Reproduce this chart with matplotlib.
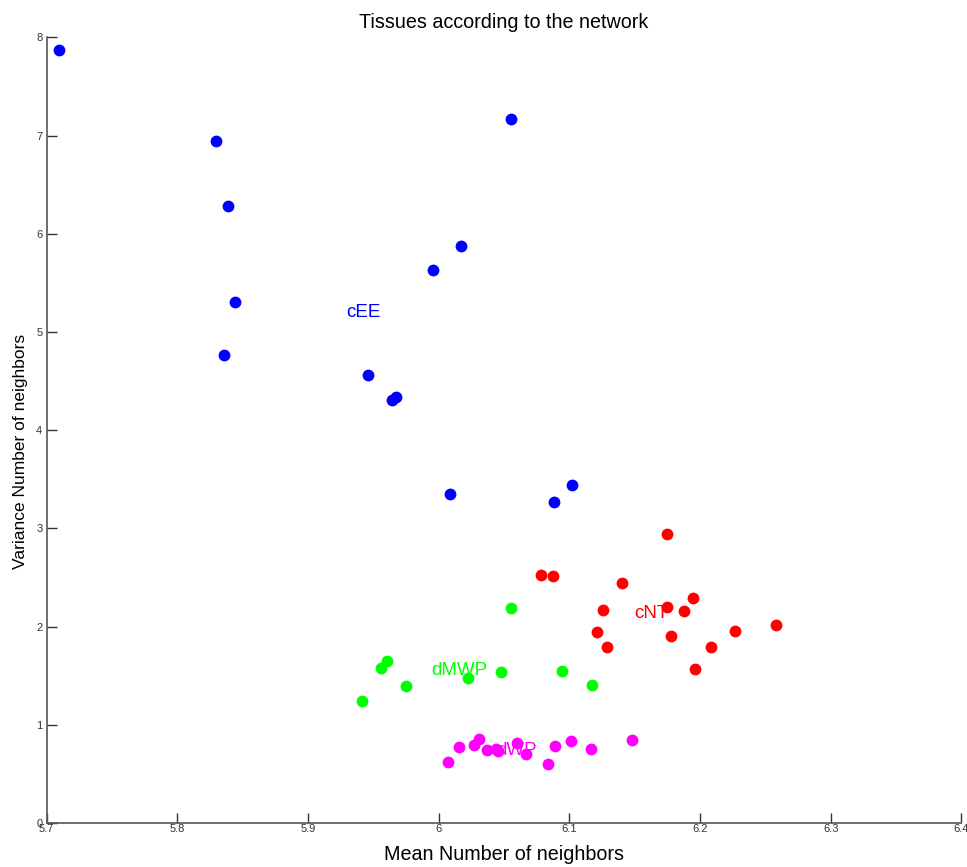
import matplotlib
matplotlib.use("Agg")
import matplotlib.pyplot as plt

plt.rcParams['font.family'] = ['Liberation Sans', 'DejaVu Sans']

title = "Tissues according to the network"
xlabel = "Mean Number of neighbors"
ylabel = "Variance Number of neighbors"

xticks = [5.7, 5.8, 5.9, 6.0, 6.1, 6.2, 6.3, 6.4]
xtick_labels = ["5.7", "5.8", "5.9", "6", "6.1", "6.2", "6.3", "6.4"]
yticks = [0, 1, 2, 3, 4, 5, 6, 7, 8]
ytick_labels = ["0", "1", "2", "3", "4", "5", "6", "7", "8"]

cEE_x = [5.7095, 5.8295, 5.839, 5.844, 5.8356, 5.996, 6.017, 6.055, 5.946, 5.964, 5.967, 6.009, 6.088, 6.102]
cEE_y = [7.87, 6.94, 6.28, 5.30, 4.77, 5.63, 5.87, 7.17, 4.56, 4.31, 4.34, 3.35, 3.27, 3.44]

cNT_x = [6.0783, 6.0875, 6.1748, 6.1404, 6.1259, 6.175, 6.1944, 6.1875, 6.1213, 6.1776, 6.2267, 6.1290, 6.2082, 6.1959, 6.258]
cNT_y = [2.53, 2.52, 2.94, 2.44, 2.17, 2.20, 2.29, 2.16, 1.94, 1.90, 1.96, 1.79, 1.79, 1.57, 2.02]

dMWP_x = [6.0551, 5.9604, 5.9558, 5.9749, 5.9413, 6.0228, 6.0474, 6.0940, 6.1175]
dMWP_y = [2.19, 1.65, 1.58, 1.40, 1.24, 1.48, 1.54, 1.55, 1.41]

dWP_x = [6.0069, 6.0159, 6.0273, 6.0312, 6.0368, 6.0439, 6.0452, 6.0597, 6.0668, 6.0834, 6.0892, 6.1012, 6.1167, 6.1478]
dWP_y = [0.62, 0.77, 0.79, 0.86, 0.74, 0.75, 0.73, 0.81, 0.70, 0.60, 0.78, 0.84, 0.75, 0.85]

labels = ["cEE", "cNT", "dMWP", "dWP"]
label_x = [5.929, 6.150, 5.9944, 6.0441]
label_y = [5.20, 2.13, 1.55, 0.74]
colors = ["#0000ff", "#ff0000", "#00ff00", "#ff00ff"]

fig = plt.figure(figsize=(9.67, 8.67), dpi=100)
ax = fig.add_axes([0.0481, 0.0507, 0.9462, 0.9063])

series = [(cEE_x, cEE_y), (cNT_x, cNT_y), (dMWP_x, dMWP_y), (dWP_x, dWP_y)]
for (xs, ys), c in zip(series, colors):
    ax.plot(xs, ys, linestyle='none', marker='o', markersize=8.5,
            markerfacecolor=c, markeredgecolor=c, markeredgewidth=0)

for t, x, y, c in zip(labels, label_x, label_y, colors):
    ax.text(x, y, t, color=c, fontsize=13.5, ha='left', va='center')

ax.set_xlim(5.7, 6.4)
ax.set_ylim(0, 8)
ax.set_xticks(xticks)
ax.set_xticklabels(xtick_labels)
ax.set_yticks(yticks)
ax.set_yticklabels(ytick_labels)
ax.tick_params(direction='in', length=7, width=1, colors='#333333', labelsize=8, pad=3)
ax.tick_params(axis='x', pad=1)
for s in ['top', 'right']:
    ax.spines[s].set_visible(False)
for s in ['left', 'bottom']:
    ax.spines[s].set_color('#555555')
    ax.spines[s].set_linewidth(1.2)

ax.set_title(title, fontsize=14.2, pad=7)
ax.set_xlabel(xlabel, fontsize=14.2)
ax.xaxis.set_label_coords(0.5, -0.028)
ax.set_ylabel(ylabel, fontsize=12.5)
ax.yaxis.set_label_coords(-0.020, 0.473)

fig.savefig("out.png", dpi=100)
